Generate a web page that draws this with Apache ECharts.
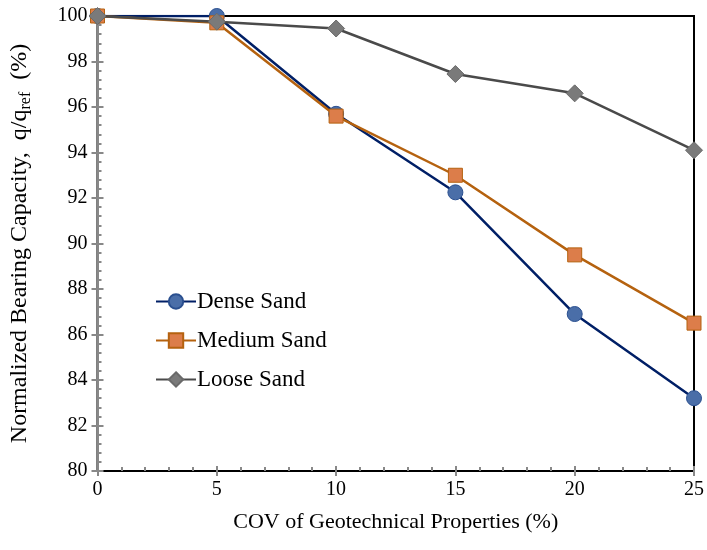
<!DOCTYPE html>
<html><head><meta charset="utf-8">
<script src="https://cdn.jsdelivr.net/npm/echarts@6/dist/echarts.min.js"></script>
<style>html,body{margin:0;padding:0;background:#fff}#c{width:707px;height:550px}</style>
</head><body><div id="c"></div>
<script>
const cov = [0, 5, 10, 15, 20, 25];
const dense = [100, 100, 95.7, 92.25, 86.9, 83.2];
const medium = [100, 99.7, 95.6, 93.0, 89.5, 86.5];
const loose = [100, 99.75, 99.45, 97.45, 96.6, 94.1];
const seriesNames = ['Dense Sand', 'Medium Sand', 'Loose Sand'];

const font = 'Liberation Serif';
const pairs = a => cov.map((x, i) => [x, a[i]]);
const chart = echarts.init(document.getElementById('c'));
const yBase = {type: 'value', min: 80, max: 100, interval: 2};
const xBase = {type: 'value', min: 0, max: 25, interval: 5};
chart.setOption({
  animation: false,
  grid: {left: 95, right: 12, top: 16, bottom: 79, show: true, borderColor: '#000', borderWidth: 2, backgroundColor: 'transparent'},
  legend: {
    left: 150, top: 285, orient: 'vertical', itemGap: 16, itemWidth: 40, itemHeight: 18,
    textStyle: {fontFamily: font, fontSize: 23, color: '#000', padding: [0, 0, 0, -4]},
    data: seriesNames
  },
  xAxis: [
    Object.assign({}, xBase, {
      axisLine: {show: true, lineStyle: {color: '#000', width: 2}},
      axisTick: {show: true, inside: false, length: 5, lineStyle: {color: '#888', width: 2}},
      minorTick: {show: false},
      splitLine: {show: false},
      axisLabel: {fontFamily: font, fontSize: 20, color: '#000', margin: 9},
      name: 'COV of Geotechnical Properties (%)', nameLocation: 'middle', nameGap: 40,
      nameTextStyle: {fontFamily: font, fontSize: 22, color: '#000'}
    }),
    Object.assign({}, xBase, {
      gridIndex: 0, position: 'bottom',
      axisLine: {show: true, lineStyle: {color: '#000', width: 2}},
      axisTick: {show: true, inside: true, length: 5, lineStyle: {color: '#888', width: 2}},
      minorTick: {show: true, splitNumber: 5, length: 4, lineStyle: {color: '#888', width: 2}},
      splitLine: {show: false}, axisLabel: {show: false}
    })
  ],
  yAxis: [
    Object.assign({}, yBase, {
      axisLine: {show: true, lineStyle: {color: '#888', width: 2}},
      axisTick: {show: true, inside: false, length: 6, lineStyle: {color: '#888', width: 2}},
      minorTick: {show: false},
      splitLine: {show: false},
      axisLabel: {fontFamily: font, fontSize: 20, color: '#000', margin: 10},
      name: '{m|Normalized Bearing Capacity,  q/q}{s|ref}{m|  (%)}',
      nameLocation: 'middle', nameGap: 64, nameRotate: 90,
      nameTextStyle: {fontFamily: font, fontSize: 24, color: '#000',
        rich: {m: {fontFamily: font, fontSize: 24, color: '#000'},
               s: {fontFamily: font, fontSize: 16, color: '#000', padding: [11, 0, 0, 0]}}}
    }),
    Object.assign({}, yBase, {
      position: 'left',
      axisLine: {show: true, lineStyle: {color: '#888', width: 2}},
      axisTick: {show: true, inside: true, length: 6, lineStyle: {color: '#888', width: 2}},
      minorTick: {show: true, splitNumber: 5, length: 4, lineStyle: {color: '#888', width: 2}},
      splitLine: {show: false}, axisLabel: {show: false}
    })
  ],
  series: [
    {name: seriesNames[0], type: 'line', data: pairs(dense), symbol: 'circle', symbolSize: 15,
     lineStyle: {color: '#001f66', width: 2.5}, itemStyle: {color: '#4a6ea8', borderColor: '#2a4f8f', borderWidth: 1}, z: 5},
    {name: seriesNames[1], type: 'line', data: pairs(medium), symbol: 'rect', symbolSize: 14,
     lineStyle: {color: '#b5620f', width: 2.5}, itemStyle: {color: '#dc7d4a', borderColor: '#b5620f', borderWidth: 1}, z: 6},
    {name: seriesNames[2], type: 'line', data: pairs(loose), symbol: 'diamond', symbolSize: 17,
     lineStyle: {color: '#4a4a4a', width: 2.5}, itemStyle: {color: '#7a7a7a', borderColor: '#6a6a6a', borderWidth: 1}, z: 7}
  ]
});
</script></body></html>
